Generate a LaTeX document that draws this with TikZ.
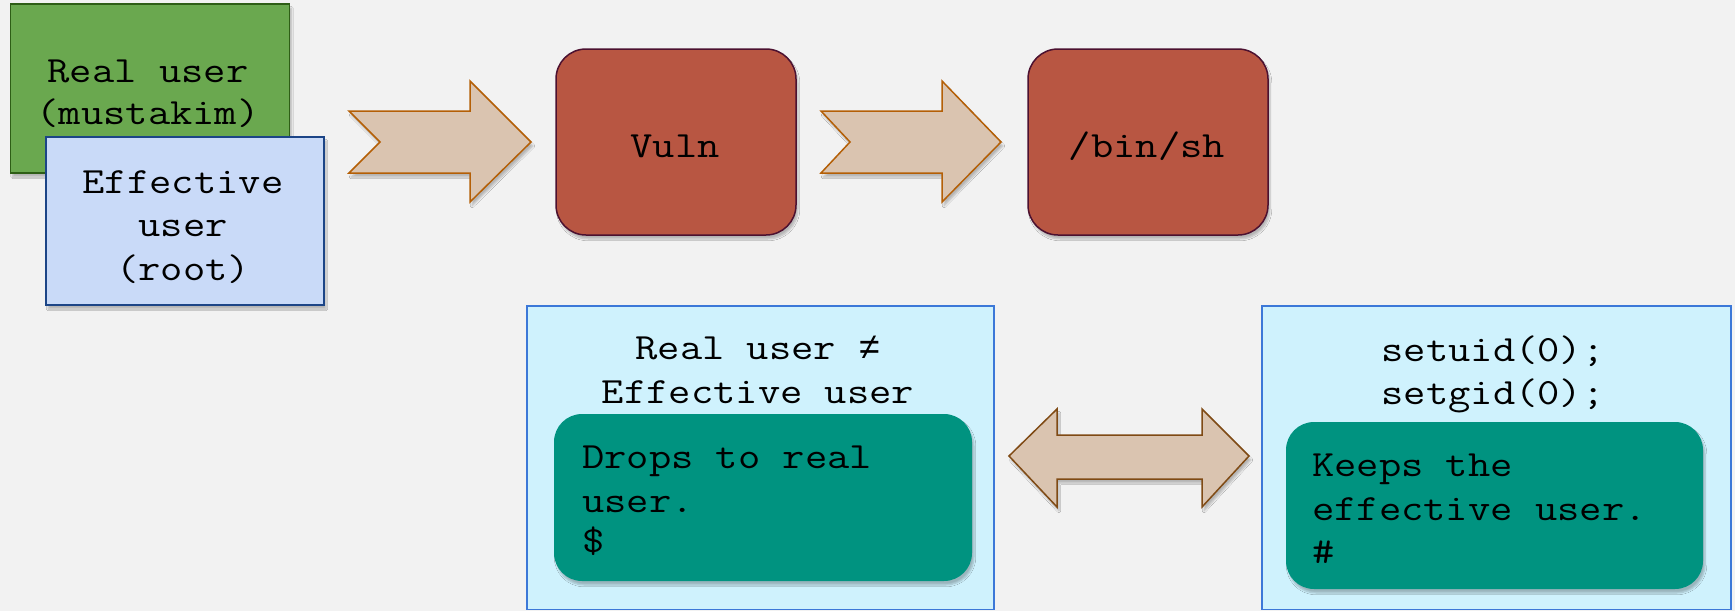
\documentclass[tikz,border=0pt]{standalone}
\usepackage{fontspec}
\setmonofont{Latin Modern Mono}[FakeStretch=1.17]
\newfontfamily\symmono{Liberation Mono}
\usetikzlibrary{shadows.blur}
\definecolor{bgc}{HTML}{F2F2F2}
\definecolor{greenf}{HTML}{6AA84F}
\definecolor{greend}{HTML}{2E5E16}
\definecolor{bluef}{HTML}{C9DAF8}
\definecolor{blued}{HTML}{1C4587}
\definecolor{tanf}{HTML}{DAC4B0}
\definecolor{tand}{HTML}{B45F06}
\definecolor{tandd}{HTML}{7F4A14}
\definecolor{redf}{HTML}{B85642}
\definecolor{redd}{HTML}{4C1130}
\definecolor{cyanf}{HTML}{CFF2FD}
\definecolor{cyand}{HTML}{3C78D8}
\definecolor{tealf}{HTML}{009380}
\newcommand\dfont{\ttfamily\fontsize{37}{44}\selectfont}
\tikzset{
  shad/.style={blur shadow={shadow xshift=2pt,shadow yshift=-4pt,shadow blur steps=6,shadow opacity=25}},
  userbox/.style={draw, line width=1.5pt, inner sep=0pt, shad},
  procbox/.style={draw=redd, fill=redf, line width=1.5pt, rounded corners=30pt, inner sep=0pt,
    minimum width=240pt, minimum height=186pt, shad},
  panel/.style={draw=cyand, fill=cyanf, line width=1.5pt},
  tealbox/.style={fill=tealf, rounded corners=28pt, shad},
  blockarrow/.style={fill=tanf, draw=tand, line width=1.5pt, line join=miter, shad},
  txt/.style={font=\dfont, inner sep=0pt, anchor=base},
  ltxt/.style={font=\dfont, inner sep=0pt, anchor=base west}
}
\begin{document}
\begin{tikzpicture}[x=1pt,y=-1pt]
\useasboundingbox[fill=bgc] (0,0) rectangle (1735,611);

% user boxes
\node[userbox, fill=greenf, draw=greend, minimum width=279pt, minimum height=169pt] (real) at (150,88.5) {};
\node[txt] (r1) at (148,82) {Real user};
\node[txt] (r2) at (148,124) {(mustakim)};
\node[userbox, fill=bluef, draw=blued, minimum width=278pt, minimum height=168pt] (eff) at (185,221) {};
\node[txt] (e1) at (183,193) {Effective};
\node[txt] (e2) at (183,236.5) {user};
\node[txt] (e3) at (183,280) {(root)};

% arrow 1
\path[blockarrow] (349,111) -- (470,111) -- (470,81) -- (531,142) -- (470,202) -- (470,173) -- (349,173) -- (380,142) -- cycle;

% Vuln
\node[procbox] (vuln) at (676,142) {};
\node[txt] (vulnt) at (675,157) {Vuln};

% arrow 2
\path[blockarrow] (821,111) -- (942,111) -- (942,81) -- (1001,142) -- (942,202) -- (942,173) -- (821,173) -- (850,142) -- cycle;

% /bin/sh
\node[procbox] (sh) at (1148,142) {};
\node[txt] (sht) at (1147,157) {/bin/sh};

% bottom panels
\path[panel] (527,306) rectangle (994,609.5);
\path[panel] (1262,306) rectangle (1731,609.5);

\node[txt] (n1) at (758,359) {Real user {\symmono ≠}};
\node[txt] (n2) at (758,403) {Effective user};
\path[tealbox] (554,414) rectangle (972,581);
\node[ltxt] (d1) at (582,468) {Drops to real};
\node[ltxt] (d2) at (582,512) {user.};
\node[ltxt] (d3) at (582,552) {\$};

\node[txt] (s1) at (1493,361) {setuid(0);};
\node[txt] (s2) at (1493,404) {setgid(0);};
\path[tealbox] (1286,422) rectangle (1703,589);
\node[ltxt] (k1) at (1312,476) {Keeps the};
\node[ltxt] (k2) at (1312,520) {effective user.};
\node[ltxt] (k3) at (1312,563) {\#};

% double arrow
\path[blockarrow, draw=tandd] (1009,456) -- (1057,409) -- (1057,435) -- (1202,435) -- (1202,409) -- (1249,456) -- (1202,507) -- (1202,479) -- (1057,479) -- (1057,507) -- cycle;
\end{tikzpicture}
\end{document}
